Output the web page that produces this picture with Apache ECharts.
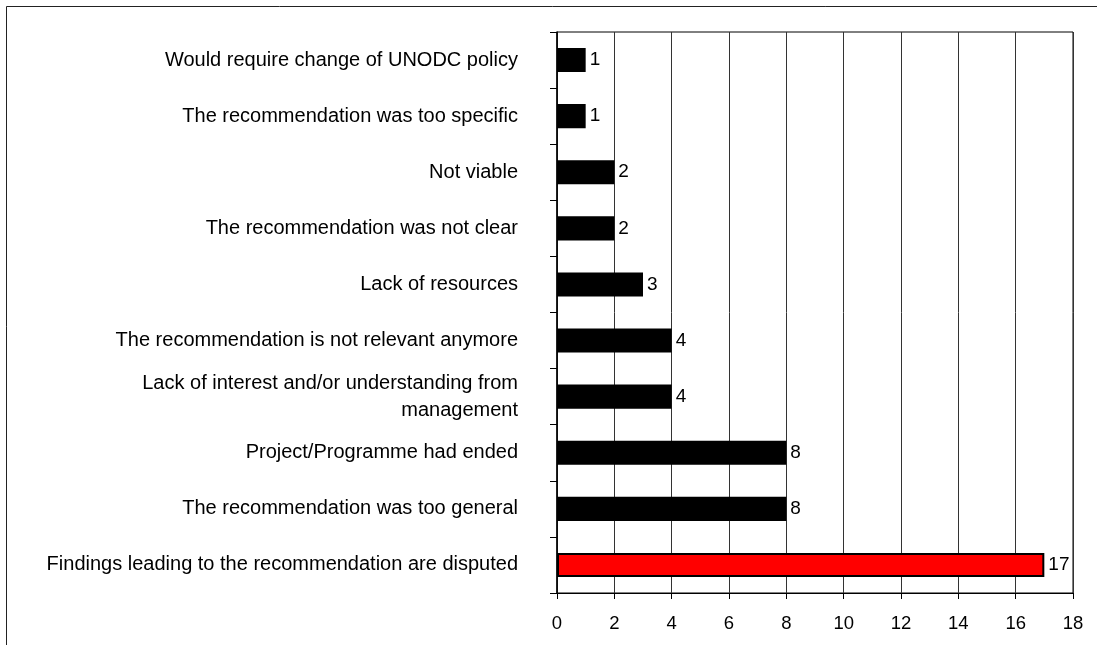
<!DOCTYPE html>
<html>
<head>
<meta charset="utf-8">
<script src="https://cdn.jsdelivr.net/npm/echarts@6/dist/echarts.min.js"></script>
<style>
  html, body { margin: 0; padding: 0; background: #fff; }
  #chart { width: 1097px; height: 645px; }
</style>
</head>
<body>
<div id="chart"></div>
<script>
// Reasons recommendations were not implemented (top to bottom)
const categories = [
  'Would require change of UNODC policy',
  'The recommendation was too specific',
  'Not viable',
  'The recommendation was not clear',
  'Lack of resources',
  'The recommendation is not relevant anymore',
  'Lack of interest and/or understanding from\nmanagement',
  'Project/Programme had ended',
  'The recommendation was too general',
  'Findings leading to the recommendation are disputed'
];
const counts = [1, 1, 2, 2, 3, 4, 4, 8, 8, 17];
const highlightIndex = 9;
const xTicks = { min: 0, max: 18, interval: 2 };

const FONT = '"Liberation Sans", Arial, sans-serif';
const chart = echarts.init(document.getElementById('chart'), null, { renderer: 'canvas' });

chart.setOption({
  animation: false,
  backgroundColor: '#fff',
  textStyle: { fontFamily: FONT },
  graphic: [{
    type: 'rect',
    shape: { x: 6.5, y: 6.5, width: 1200, height: 800 },
    style: { fill: 'none', stroke: '#222', lineWidth: 1 },
    silent: true
  }],
  grid: {
    left: 557, top: 32, right: 24, bottom: 52,
    show: true, borderColor: '#000', borderWidth: 1
  },
  xAxis: {
    type: 'value',
    min: xTicks.min, max: xTicks.max, interval: xTicks.interval,
    axisLine: { show: true, lineStyle: { color: '#000', width: 1 } },
    axisTick: { show: true, length: 6, lineStyle: { color: '#000' } },
    axisLabel: { color: '#000', fontSize: 18.5, fontFamily: FONT, margin: 21 },
    splitLine: { show: true, lineStyle: { color: '#333', width: 1 } }
  },
  yAxis: {
    type: 'category',
    data: categories,
    inverse: true,
    axisLine: { show: true, lineStyle: { color: '#000', width: 1.5 } },
    axisTick: { show: true, length: 7, lineStyle: { color: '#000' } },
    axisLabel: {
      color: '#000', fontSize: 20, fontFamily: FONT, margin: 39,
      align: 'right', lineHeight: 27
    },
    splitLine: { show: false }
  },
  series: [{
    type: 'bar',
    data: counts.map((v, i) => ({
      value: v,
      itemStyle: { color: i === highlightIndex ? '#ff0000' : '#000' }
    })),
    barWidth: '43%',
    itemStyle: { borderColor: '#000', borderWidth: 2 },
    label: {
      show: true, position: 'right', distance: 4,
      color: '#000', fontSize: 19, fontFamily: FONT
    }
  }]
});
</script>
</body>
</html>
